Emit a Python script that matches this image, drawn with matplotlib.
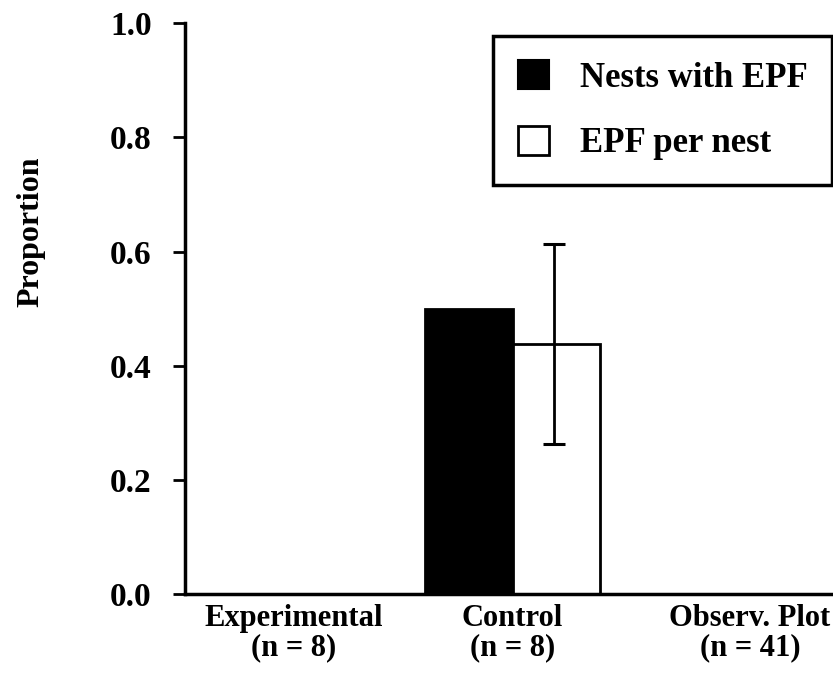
import numpy as np
import matplotlib
matplotlib.use("Agg")
import matplotlib.pyplot as plt
import matplotlib.transforms as mtransforms
from matplotlib.patches import Patch

groups = ["Experimental\n(n = 8)", "Control\n(n = 8)", "Observ. Plot\n(n = 41)"]
nests_with_epf = [0.0, 0.5, 0.0]
epf_per_nest = [0.0, 0.4375, 0.0]
epf_err = [0.0, 0.175, 0.0]
yticks = [0.0, 0.2, 0.4, 0.6, 0.8, 1.0]

plt.rcParams["font.family"] = ["Liberation Serif", "DejaVu Serif"]
plt.rcParams["font.weight"] = "bold"

fig = plt.figure(figsize=(8.33, 6.82), dpi=100)
ax = fig.add_axes([0.2221, 0.129, 0.778, 0.837])

x = np.arange(len(groups))
w = 0.37
ax.bar(x - w / 2, nests_with_epf, w, color="black", edgecolor="black", linewidth=2)
ax.bar(x + w / 2, epf_per_nest, w, color="white", edgecolor="black", linewidth=2, zorder=2)
# error bar only where there is a value
idx = [i for i, e in enumerate(epf_err) if e > 0]
ax.errorbar(x[idx] + w / 2 - 0.01, np.array(epf_per_nest)[idx], yerr=np.array(epf_err)[idx],
            fmt="none", ecolor="black", elinewidth=2, capsize=8, capthick=2.2, zorder=3)

ax.set_xlim(-0.38, 2.35)
ax.set_ylim(0, 1.0)
ax.set_yticks(yticks)
ax.set_yticklabels([f"{v:.1f}" for v in yticks], fontsize=24, fontweight="bold")
ax.set_xticks(x)
ax.set_xticklabels(groups, fontsize=22, fontweight="bold", linespacing=1.0)
ax.tick_params(axis="x", length=0, pad=7)
ax.tick_params(axis="y", direction="out", length=9, width=2, pad=15)
# first label sits a bit right of its group in the original
lbl0 = ax.get_xticklabels()[0]
lbl0.set_transform(lbl0.get_transform() + mtransforms.ScaledTranslation(0.18, 0, fig.dpi_scale_trans))

for s in ["top", "right"]:
    ax.spines[s].set_visible(False)
for s in ["left", "bottom"]:
    ax.spines[s].set_linewidth(2.5)

ax.set_ylabel("Proportion", fontsize=23, fontweight="bold")
ax.yaxis.set_label_coords(-0.215, 0.634)

handles = [Patch(facecolor="black", edgecolor="black", linewidth=1.5, label="Nests with EPF"),
           Patch(facecolor="white", edgecolor="black", linewidth=2, label="EPF per nest")]
leg = ax.legend(handles=handles, loc="upper right", bbox_to_anchor=(0.999, 0.947),
                bbox_transform=fig.transFigure, borderaxespad=0, fancybox=False,
                frameon=True, edgecolor="black", framealpha=1,
                prop={"family": "Liberation Serif", "weight": "bold", "size": 25},
                handlelength=0.9, handleheight=0.9, handletextpad=0.9,
                labelspacing=0.9, borderpad=0.7)
leg.get_frame().set_linewidth(2.5)

fig.savefig("out.png", dpi=100)
